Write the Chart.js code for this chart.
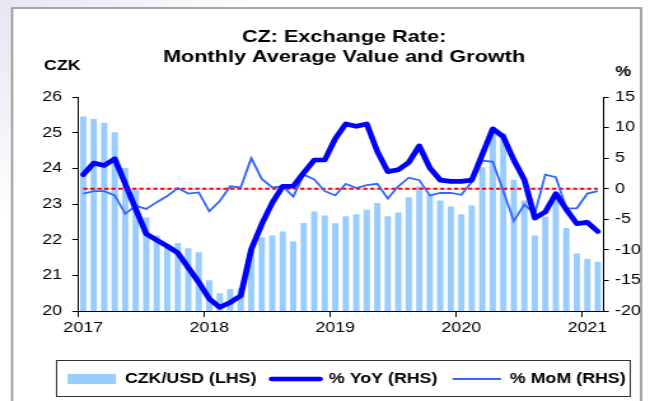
<!DOCTYPE html>
<html>
<head>
<meta charset="utf-8">
<script src="https://cdn.jsdelivr.net/npm/chart.js@4.4.1/dist/chart.umd.min.js"></script>
<style>
  html, body {
    margin: 0; padding: 0; width: 664px; height: 401px; overflow: hidden;
    background: linear-gradient(140deg, #e6e5f3 0px, #f1f0f8 80px, #ffffff 170px);
  }
  /* the source picture is stretched sideways, so the chart is drawn narrow and scaled */
  #wrap { width: 522px; height: 401px; transform: scaleX(1.272); transform-origin: 0 0; }
  canvas { display: block; }
</style>
</head>
<body>
<div id="wrap"><canvas id="chart" width="522" height="401"></canvas></div>
<script>
const years = ['2017', '2018', '2019', '2020', '2021'];
const months = ['Jan', 'Feb', 'Mar', 'Apr', 'May', 'Jun', 'Jul', 'Aug', 'Sep', 'Oct', 'Nov', 'Dec'];

// CZK per USD, monthly average (LHS)
const czkUsd = [
  25.45, 25.38, 25.28, 25.01, 24.01, 23.39, 22.62, 22.12, 21.85, 21.91, 21.76, 21.65,
  20.86, 20.50, 20.61, 20.65, 21.71, 22.07, 22.12, 22.23, 21.95, 22.47, 22.79, 22.68,
  22.46, 22.66, 22.71, 22.84, 23.03, 22.66, 22.76, 23.19, 23.49, 23.26, 23.10, 22.93,
  22.71, 22.96, 24.03, 25.00, 24.99, 23.68, 23.10, 22.12, 22.64, 23.13, 22.33, 21.61,
  21.46, 21.38
];

// % YoY (RHS)
const yoy = [
  2.3, 4.2, 3.8, 4.9, 0.8, -3.3, -7.4, -8.4, -9.4, -10.5, -12.9, -15.3,
  -18.0, -19.4, -18.6, -17.5, -9.9, -5.8, -2.3, 0.4, 0.4, 2.6, 4.7, 4.7,
  8.2, 10.6, 10.2, 10.6, 6.1, 2.8, 3.1, 4.3, 7.0, 3.4, 1.4, 1.2,
  1.2, 1.4, 5.6, 9.8, 8.5, 4.7, 1.5, -4.8, -3.8, -0.8, -3.4, -5.7,
  -5.5, -7.0
];

// % MoM (RHS)
const mom = [
  -0.8, -0.4, -0.4, -1.1, -4.1, -2.8, -3.3, -2.2, -1.2, 0.1, -0.8, -0.6,
  -3.7, -2.0, 0.4, 0.2, 5.0, 1.6, 0.2, 0.4, -1.3, 2.3, 1.5, -0.4,
  -1.1, 0.8, 0.1, 0.6, 0.8, -1.6, 0.4, 1.8, 1.4, -1.1, -0.7, -0.7,
  -1.0, 1.1, 4.6, 4.4, -0.4, -5.3, -2.6, -4.1, 2.3, 1.9, -3.2, -3.2,
  -0.8, -0.4
];

const labels = [];
years.forEach(y => months.forEach(m => labels.push(m + ' ' + y)));
labels.length = czkUsd.length;

const zeroLine = czkUsd.map(() => 0);

const FONT = "'Liberation Sans', Arial, sans-serif";
Chart.defaults.font.family = FONT;
Chart.defaults.color = '#000';

// frame, titles and the box round the legend
const decor = {
  id: 'decor',
  beforeDraw(chart) {
    const ctx = chart.ctx;
    ctx.save();
    ctx.fillStyle = '#fff';
    ctx.fillRect(9.5, 8, 494.5, 400);
    ctx.strokeStyle = '#8a8a8a';
    ctx.lineWidth = 1.5;
    ctx.strokeRect(9.5, 8, 494.5, 400);
    ctx.restore();
  },
  afterDraw(chart) {
    const ctx = chart.ctx;
    ctx.save();
    ctx.fillStyle = '#000';
    ctx.textAlign = 'center';
    ctx.textBaseline = 'middle';
    ctx.font = 'bold 17px ' + FONT;
    ctx.fillText('CZ: Exchange Rate:', 270.5, 37);
    ctx.fillText('Monthly Average Value and Growth', 270.5, 57);
    ctx.font = 'bold 14px ' + FONT;
    ctx.fillText('CZK', 49, 66);
    ctx.fillText('%', 490, 72);

    const boxes = chart.legend.legendHitBoxes;
    if (boxes && boxes.length) {
      const first = boxes[0];
      const last = boxes[boxes.length - 1];
      const l = first.left - 9.4;
      const r = last.left + last.width + 3;
      const top = chart.chartArea.bottom + 49;
      ctx.strokeStyle = '#333';
      ctx.lineWidth = 1;
      ctx.strokeRect(Math.round(l) + 0.5, Math.round(top) + 0.5, Math.round(r - l), 36);
    }
    ctx.restore();
  }
};

const ctx = document.getElementById('chart').getContext('2d');
new Chart(ctx, {
  type: 'bar',
  data: {
    labels: labels,
    datasets: [
      {
        type: 'bar',
        label: 'CZK/USD (LHS)',
        data: czkUsd,
        yAxisID: 'y',
        backgroundColor: '#99ccff',
        barPercentage: 0.6,
        categoryPercentage: 1,
        order: 3
      },
      {
        type: 'line',
        label: '% YoY (RHS)',
        data: yoy,
        yAxisID: 'y1',
        borderColor: '#0000ff',
        borderWidth: 4.7,
        borderCapStyle: 'round',
        borderJoinStyle: 'round',
        pointRadius: 0,
        tension: 0,
        order: 0
      },
      {
        type: 'line',
        label: '% MoM (RHS)',
        data: mom,
        yAxisID: 'y1',
        borderColor: '#3366ff',
        borderWidth: 1.8,
        pointRadius: 0,
        tension: 0,
        order: 1
      },
      {
        type: 'line',
        label: 'zero',
        data: zeroLine,
        yAxisID: 'y1',
        borderColor: '#ff0000',
        borderWidth: 2,
        borderDash: [3.5, 2],
        pointRadius: 0,
        order: 2
      }
    ]
  },
  options: {
    responsive: false,
    animation: false,
    layout: { padding: { top: 97, left: 23, right: 0, bottom: 5 } },
    plugins: {
      title: { display: false },
      tooltip: { enabled: false },
      legend: {
        position: 'bottom',
        labels: {
          usePointStyle: true,
          pointStyleWidth: 38,
          boxHeight: 10,
          padding: 12,
          font: { size: 14, weight: 'bold' },
          generateLabels(chart) {
            const ds = chart.data.datasets;
            return [
              { text: ds[0].label, fillStyle: '#99ccff', strokeStyle: '#99ccff', lineWidth: 0, pointStyle: 'rect', datasetIndex: 0 },
              { text: ds[1].label, fillStyle: '#0000ff', strokeStyle: '#0000ff', lineWidth: 4.7, lineCap: 'round', pointStyle: 'line', datasetIndex: 1 },
              { text: ds[2].label, fillStyle: '#3366ff', strokeStyle: '#3366ff', lineWidth: 1.8, pointStyle: 'line', datasetIndex: 2 }
            ];
          }
        }
      }
    },
    scales: {
      x: {
        type: 'category',
        offset: true,
        afterFit(s) { s.height = 49; },
        grid: {
          offset: true,
          drawOnChartArea: false,
          drawTicks: true,
          tickLength: 6,
          color: c => (c.index % 12 === 0 && c.index < labels.length) ? '#000' : 'rgba(0,0,0,0)'
        },
        border: { display: true, color: '#000', width: 1 },
        ticks: {
          autoSkip: false,
          maxRotation: 0,
          padding: 3,
          font: { size: 14 },
          callback: (v, i) => (i % 12 === 0 ? years[i / 12] : '')
        }
      },
      y: {
        position: 'left',
        min: 20,
        max: 26,
        afterFit(s) { s.width = 38.3; },
        grid: { drawOnChartArea: false, tickLength: 4.5, color: '#000' },
        border: { display: true, color: '#000', width: 1 },
        ticks: { stepSize: 1, padding: 8, font: { size: 14 } }
      },
      y1: {
        position: 'right',
        min: -20,
        max: 15,
        afterFit(s) { s.width = 47.9; },
        grid: { drawOnChartArea: false, tickLength: 4.5, color: '#000' },
        border: { display: true, color: '#000', width: 1 },
        ticks: { stepSize: 5, padding: 5, font: { size: 14 } }
      }
    }
  },
  plugins: [decor]
});
</script>
</body>
</html>
